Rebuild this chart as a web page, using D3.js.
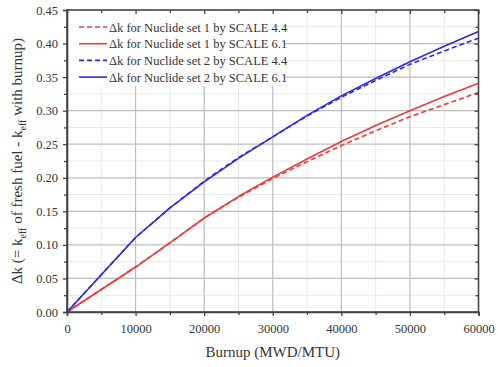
<!DOCTYPE html>
<html>
<head>
<meta charset="utf-8">
<script src="https://cdn.jsdelivr.net/npm/d3@7"></script>
<style>
  body { margin: 0; background: #fff; }
  svg text { font-family: "Liberation Serif", "Times New Roman", Times, "DejaVu Serif", "Noto Serif", serif; fill: #333; }
</style>
</head>
<body>
<svg id="chart" width="498" height="367"></svg>
<script>
// burnup points (MWD/MTU)
var burnup = [0, 5000, 10000, 15000, 20000, 25000, 30000, 35000, 40000, 45000, 50000, 55000, 60000];

// delta k values
var set1Scale44 = [0, 0.0335, 0.067, 0.103, 0.140, 0.171, 0.199, 0.224, 0.248, 0.270, 0.291, 0.309, 0.327];
var set1Scale61 = [0, 0.0335, 0.067, 0.103, 0.140, 0.172, 0.201, 0.228, 0.254, 0.278, 0.300, 0.321, 0.341];
var set2Scale44 = [0, 0.0555, 0.111, 0.155, 0.195, 0.230, 0.261, 0.292, 0.320, 0.345, 0.369, 0.389, 0.408];
var set2Scale61 = [0, 0.0555, 0.111, 0.155, 0.194, 0.229, 0.261, 0.293, 0.322, 0.348, 0.373, 0.396, 0.418];

var seriesNames = [
  'Δk for Nuclide set 1 by SCALE 4.4',
  'Δk for Nuclide set 1 by SCALE 6.1',
  'Δk for Nuclide set 2 by SCALE 4.4',
  'Δk for Nuclide set 2 by SCALE 6.1'
];

var xTicks = [0, 10000, 20000, 30000, 40000, 50000, 60000];
var yTicks = [0, 0.05, 0.10, 0.15, 0.20, 0.25, 0.30, 0.35, 0.40, 0.45];

(function () {
  var red = '#f0393c';
  var blue = '#2b2be6';
  var serif = '"Liberation Serif", "Times New Roman", Times, "DejaVu Serif", "Noto Serif", serif';

  var series = [
    { name: seriesNames[0], values: set1Scale44, color: red, dash: '5,3' },
    { name: seriesNames[1], values: set1Scale61, color: red, dash: null },
    { name: seriesNames[2], values: set2Scale44, color: blue, dash: '5,3' },
    { name: seriesNames[3], values: set2Scale61, color: blue, dash: null }
  ];

  var svg = d3.select('#chart');
  var pl = 67, pr = 478.5, pt = 10, pb = 312;

  var x = d3.scaleLinear().domain([0, 60000]).range([pl, pr]);
  var y = d3.scaleLinear().domain([0, 0.45]).range([pb, pt]);

  var minorX = d3.range(5000, 60000, 10000);
  var minorY = d3.range(0.025, 0.45, 0.05);

  // grid
  var grid = svg.append('g');
  grid.selectAll('.mx').data(minorX).enter().append('line')
    .attr('x1', x).attr('x2', x).attr('y1', pt).attr('y2', pb)
    .attr('stroke', '#e8e8e8').attr('stroke-width', 1);
  grid.selectAll('.my').data(minorY).enter().append('line')
    .attr('y1', y).attr('y2', y).attr('x1', pl).attr('x2', pr)
    .attr('stroke', '#e8e8e8').attr('stroke-width', 1);
  grid.selectAll('.gx').data(xTicks.slice(1, -1)).enter().append('line')
    .attr('x1', x).attr('x2', x).attr('y1', pt).attr('y2', pb)
    .attr('stroke', '#bdbdbd').attr('stroke-width', 1.2);
  grid.selectAll('.gy').data(yTicks.slice(1, -1)).enter().append('line')
    .attr('y1', y).attr('y2', y).attr('x1', pl).attr('x2', pr)
    .attr('stroke', '#bdbdbd').attr('stroke-width', 1.2);

  // legend background hides the grid behind it
  svg.append('rect').attr('x', pl + 1).attr('y', pt + 1)
    .attr('width', 216).attr('height', 75).attr('fill', '#fff');

  // lines
  var line = d3.line()
    .x(function (d, i) { return x(burnup[i]); })
    .y(function (d) { return y(d); });

  series.forEach(function (s) {
    svg.append('path').datum(s.values)
      .attr('d', line)
      .attr('fill', 'none')
      .attr('stroke', s.color)
      .attr('stroke-width', 1.6)
      .attr('stroke-linejoin', 'round')
      .attr('stroke-dasharray', s.dash);
  });

  // axes
  var axisColor = '#444';
  svg.append('g').attr('transform', 'translate(0,' + pb + ')')
    .call(d3.axisBottom(x).tickValues(xTicks).tickSize(4).tickPadding(8).tickFormat(d3.format('d')));
  svg.append('g').attr('transform', 'translate(' + pl + ',0)')
    .call(d3.axisLeft(y).tickValues(yTicks).tickSize(4).tickPadding(5).tickFormat(d3.format('.2f')));
  var topAxis = svg.append('g').attr('transform', 'translate(0,' + pt + ')')
    .call(d3.axisBottom(x).tickValues(xTicks).tickSize(4).tickFormat(''));
  var rightAxis = svg.append('g').attr('transform', 'translate(' + pr + ',0)')
    .call(d3.axisLeft(y).tickValues(yTicks).tickSize(4).tickFormat(''));

  // minor ticks
  var minors = [
    svg.append('g').attr('transform', 'translate(0,' + pb + ')')
      .call(d3.axisBottom(x).tickValues(minorX).tickSize(3).tickFormat('')),
    svg.append('g').attr('transform', 'translate(' + pl + ',0)')
      .call(d3.axisLeft(y).tickValues(minorY).tickSize(3).tickFormat('')),
    svg.append('g').attr('transform', 'translate(0,' + pt + ')')
      .call(d3.axisBottom(x).tickValues(minorX).tickSize(3).tickFormat('')),
    svg.append('g').attr('transform', 'translate(' + pr + ',0)')
      .call(d3.axisLeft(y).tickValues(minorY).tickSize(3).tickFormat(''))
  ];
  topAxis.select('.domain').remove();
  rightAxis.select('.domain').remove();
  minors.forEach(function (g) { g.select('.domain').remove(); });

  svg.selectAll('.domain').attr('stroke', axisColor).attr('stroke-width', 1.6);
  svg.selectAll('.tick line').attr('stroke', axisColor).attr('stroke-width', 1.3);
  svg.selectAll('.tick text').attr('font-size', 12.5).attr('fill', '#333')
    .style('font-family', serif);
  svg.append('rect').attr('x', pl).attr('y', pt).attr('width', pr - pl).attr('height', pb - pt)
    .attr('fill', 'none').attr('stroke', axisColor).attr('stroke-width', 1.6);

  // legend
  var legend = svg.append('g');
  series.forEach(function (s, i) {
    var ly = 27 + i * 16.7;
    legend.append('line').attr('x1', 79).attr('x2', 107).attr('y1', ly).attr('y2', ly)
      .attr('stroke', s.color).attr('stroke-width', 1.6).attr('stroke-dasharray', s.dash);
    legend.append('text').attr('x', 109).attr('y', ly + 4.5)
      .attr('font-size', 12.5).style('font-family', serif).text(s.name);
  });

  // axis titles
  svg.append('text').attr('x', (pl + pr) / 2).attr('y', 357)
    .attr('text-anchor', 'middle').attr('font-size', 15).style('font-family', serif)
    .text('Burnup (MWD/MTU)');

  var yt = svg.append('text').attr('transform', 'translate(22,' + (pt + pb) / 2 + ') rotate(-90)')
    .attr('text-anchor', 'middle').attr('font-size', 15).style('font-family', serif);
  yt.append('tspan').text('Δk (= k');
  yt.append('tspan').attr('font-size', 10).attr('dy', 4).text('eff');
  yt.append('tspan').attr('dy', -4).text(' of fresh fuel - k');
  yt.append('tspan').attr('font-size', 10).attr('dy', 4).text('eff');
  yt.append('tspan').attr('dy', -4).text(' with burnup)');
})();
</script>
</body>
</html>
